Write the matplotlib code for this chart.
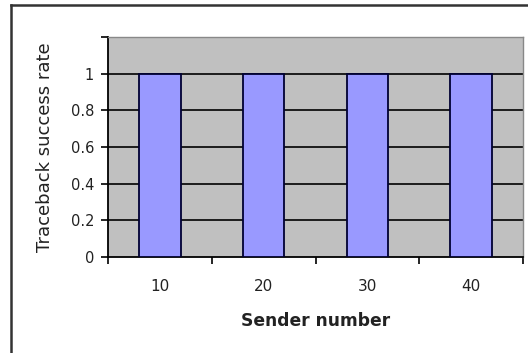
import matplotlib
matplotlib.use("Agg")
import matplotlib.pyplot as plt
from matplotlib.lines import Line2D
import numpy as np

categories = ["10", "20", "30", "40"]
success_rate = [1, 1, 1, 1]
y_ticks = [0, 0.2, 0.4, 0.6, 0.8, 1.0, 1.2]
y_tick_labels = ["0", "0.2", "0.4", "0.6", "0.8", "1", ""]

plt.rcParams["font.family"] = ["DejaVu Sans"]

fig = plt.figure(figsize=(5.28, 3.53), dpi=100)
fig.patch.set_facecolor("white")

W, H = 528, 353
left, right, top, bottom = 108, 523, 37, 257
ax = fig.add_axes([left / W, 1 - bottom / H, (right - left) / W, (bottom - top) / H])
ax.set_facecolor("#C0C0C0")

x = np.arange(len(categories))
ax.bar(x, success_rate, width=0.4, color="#9999FF", edgecolor="#000033",
       linewidth=1.3, zorder=3)

ax.set_xlim(-0.5, len(categories) - 0.5)
ax.set_ylim(0, 1.2)

# horizontal gridlines
for yv in y_ticks[1:-1]:
    ax.axhline(yv, color="black", linewidth=1.2, zorder=1)

ax.set_yticks(y_ticks)
ax.set_yticklabels(y_tick_labels, fontsize=10.5, color="#222222")
ax.tick_params(axis="y", direction="out", length=5, width=1.2, pad=5)

ax.set_xticks(x)
ax.set_xticklabels(categories, fontsize=11, color="#222222")
ax.set_xticks(np.arange(-0.5, len(categories)), minor=True)
ax.tick_params(axis="x", which="major", length=0, pad=16)
ax.tick_params(axis="x", which="minor", direction="out", length=5, width=1.2)

for side in ("left", "bottom"):
    ax.spines[side].set_color("black")
    ax.spines[side].set_linewidth(1.3)
for side in ("top", "right"):
    ax.spines[side].set_color("#888888")
    ax.spines[side].set_linewidth(1.0)

ax.set_xlabel("Sender number", fontsize=12.3, fontweight="bold", color="#222222",
              labelpad=13)
ax.set_ylabel("Traceback success rate", fontsize=13, color="#222222", labelpad=12)

# chart-area frame lines
fig.add_artist(Line2D([10.5 / W, 10.5 / W], [0, 1 - 5 / H], transform=fig.transFigure,
                      color="#333333", linewidth=1.8))
fig.add_artist(Line2D([10.5 / W, 1], [1 - 5 / H, 1 - 5 / H], transform=fig.transFigure,
                      color="#333333", linewidth=1.8))

fig.savefig("out.png", dpi=100)
